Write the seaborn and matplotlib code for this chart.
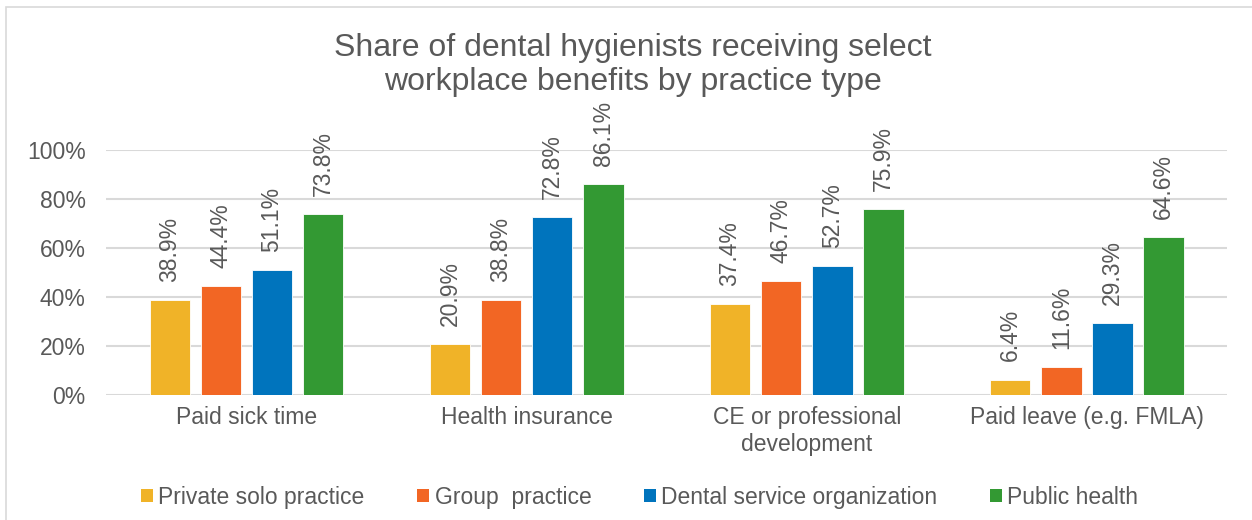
import matplotlib
matplotlib.use("Agg")
import matplotlib.pyplot as plt
from matplotlib.patches import Patch, Rectangle
from matplotlib.ticker import PercentFormatter
import pandas as pd
import seaborn as sns

# data
benefits = ["Paid sick time", "Health insurance",
            "CE or professional\ndevelopment", "Paid leave (e.g. FMLA)"]
practice_types = ["Private solo practice", "Group  practice",
                  "Dental service organization", "Public health"]
private_solo = [38.9, 20.9, 37.4, 6.4]
group_practice = [44.4, 38.8, 46.7, 11.6]
dso = [51.1, 72.8, 52.7, 29.3]
public_health = [73.8, 86.1, 75.9, 64.6]

colors = ["#F0B328", "#F26624", "#0074BD", "#339933"]
text_color = "#595959"
fs = 16.5

rows = []
for ptype, vals in zip(practice_types, [private_solo, group_practice, dso, public_health]):
    for b, v in zip(benefits, vals):
        rows.append({"benefit": b, "practice": ptype, "share": v})
df = pd.DataFrame(rows)

sns.set_style("white")
plt.rcParams["font.family"] = ["Liberation Sans", "DejaVu Sans"]

fig = plt.figure(figsize=(12.52, 5.2), dpi=100)
ax = fig.add_axes([0.085, 0.240, 0.895, 0.4712])

sns.barplot(data=df, x="benefit", y="share", hue="practice",
            order=benefits, hue_order=practice_types, palette=colors,
            saturation=1, width=0.73, gap=0.21, edgecolor="white", linewidth=0.6,
            legend=False, ax=ax)

for cont in ax.containers:
    ax.bar_label(cont, labels=[f"{v:.1f}%" for v in cont.datavalues],
                 padding=13, rotation=90, fontsize=fs, color=text_color)

ax.set_ylim(0, 100)
ax.set_yticks([0, 20, 40, 60, 80, 100])
ax.yaxis.set_major_formatter(PercentFormatter(decimals=0))
ax.set_xlim(-0.5, 3.5)
ax.grid(axis="y", color="#d9d9d9", linewidth=1.5)
ax.set_axisbelow(True)
sns.despine(ax=ax, left=True, bottom=True)
ax.set_xlabel("")
ax.set_ylabel("")
ax.tick_params(axis="both", length=0, labelsize=fs, colors=text_color)
ax.tick_params(axis="x", pad=8)
ax.tick_params(axis="y", pad=15)

fig.text(0.5056, 0.937, "Share of dental hygienists receiving select\nworkplace benefits by practice type",
         ha="center", va="top", fontsize=23, color=text_color, linespacing=1.18)

handles = [Patch(facecolor=c, edgecolor="none") for c in colors]
fig.legend(handles, practice_types, loc="center", bbox_to_anchor=(0.511, 0.044),
           ncol=4, frameon=False, fontsize=fs, handlelength=0.5, handleheight=0.5,
           handletextpad=0.25, columnspacing=2.3, labelcolor=text_color)

# light chart border like the original
fig.patches.append(Rectangle((0.005, -0.1), 1.2, 1.087, transform=fig.transFigure,
                             fill=False, edgecolor="#d9d9d9", linewidth=1.2))

fig.savefig("out.png", dpi=100)
